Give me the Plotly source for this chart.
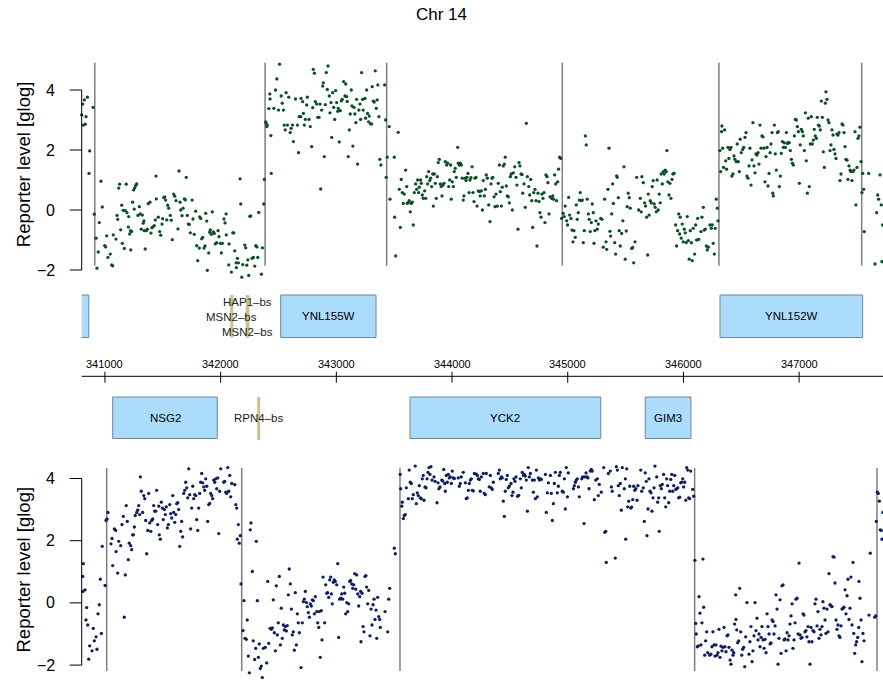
import plotly.graph_objects as go

# ---------------- data ----------------
chrom_title = "Chr 14"
y_label = "Reporter level [glog]"

top_probes = [
(340799,3.17),(340808,3.53),(340813,2.83),(340822,3.67),(340830,2.86),(340836,3.11),(340848,3.76),(340862,1.22),(340868,1.97),(340897,3.42),
(340908,-0.14),(340923,-0.94),(340931,-1.94),(340942,-1.40),(340951,-0.42),(340966,0.96),(340977,0.10),(340998,-1.19),(341006,-1.23),(341015,-0.86),(341026,-1.58),(341046,-1.47),(341058,-1.83),(341067,-1.86),(341072,-0.83),(341087,-2.61),(341095,-0.97),(341104,-0.18),(341110,-0.31),(341119,0.73),(341127,0.86),(341136,-0.66),(341145,0.16),(341150,-1.11),(341158,-0.01),(341167,-1.28),(341176,-0.02),(341184,0.86),(341190,-0.09),(341202,-0.57),(341205,-0.22),(341214,-0.80),(341222,-0.69),(341223,-1.33),(341231,-0.72),(341239,0.26),(341248,0.67),(341253,0.03),(341257,0.74),(341265,0.81),(341274,0.87),(341285,-0.18),(341297,0.11),(341305,-0.13),(341314,-0.64),(341323,-0.17),(341331,-0.44),(341337,-0.36),(341340,-0.69),(341348,-1.30),(341357,-0.69),(341366,-0.64),(341374,0.21),(341389,0.26),(341398,-0.77),(341406,-0.59),(341415,-0.56),(341426,-0.52),(341435,-0.33),(341441,1.13),(341444,0.37),(341461,-0.24),(341473,-0.72),(341482,-0.84),(341493,-0.47),(341499,-0.29),(341508,0.41),(341517,0.44),(341525,0.33),(341534,-0.33),(341542,0.16),(341551,0.06),(341565,-0.18),(341573,-0.34),(341582,-0.99),(341594,0.53),(341603,0.46),(341614,0.31),(341631,-0.63),(341640,1.30),(341649,0.26),(341655,0.00),(341666,-0.19),(341675,0.06),(341686,0.37),(341695,0.34),(341703,1.09),(341712,-0.18),(341721,-0.47),(341729,-0.48),(341738,-0.76),(341753,0.33),(341761,-0.30),(341772,-0.81),(341784,-0.04),(341793,-1.19),(341802,-1.69),(341810,-2.36),(341815,-1.27),(341819,-0.23),(341828,-0.28),(341836,-0.96),(341845,-0.91),(341856,-1.27),(341865,-1.20),(341871,-0.11),(341880,-0.37),(341885,-2.01),(341897,-1.43),(341905,-0.74),(341911,-0.66),(341919,-0.81),(341928,-0.06),(341937,-0.73),(341945,-0.78),(341954,-1.13),(341966,-1.09),(341978,-0.69),(341986,-0.89),(341997,-1.11),(342006,-1.43),(342015,-1.11),(342029,-0.30),(342038,-0.43),(342047,-0.13),(342049,-0.83),(342070,-1.83),(342073,-1.13),(342093,-2.07),(342105,-0.76),(342114,-0.76),(342122,-1.36),(342134,-1.76),(342136,-1.92),(342145,-1.61),(342154,-1.76),(342168,1.04),(342174,0.20),(342183,-2.24),(342191,-1.82),(342200,-2.70),(342209,-1.17),(342217,-1.26),(342226,-1.84),(342235,-1.66),(342243,-2.18),(342252,-0.21),(342260,-0.20),(342272,-1.61),(342283,-1.58),(342295,-1.87),(342304,-1.19),(342313,-1.23),(342321,-1.58),(342330,-0.08),(342352,-2.14),(342361,-1.26),(342373,0.20),(342378,1.02),
(342390,2.94),(342392,2.89),(342399,2.78),(342402,2.83),(342417,3.38),(342425,3.87),(342427,3.70),(342434,2.48),(342437,1.22),(342460,3.39),(342474,4.00),(342486,4.37),(342500,3.33),(342509,4.86),(342523,3.80),(342532,3.56),(342543,3.33),(342549,2.83),(342558,2.67),(342566,3.91),(342577,2.83),(342589,3.76),(342601,2.58),(342609,2.72),(342621,2.83),(342629,2.28),(342647,3.70),(342664,2.83),(342673,1.91),(342679,3.11),(342692,3.11),(342695,3.72),(342709,3.61),(342715,3.22),(342723,2.83),(342732,3.02),(342744,3.50),(342749,3.76),(342764,3.02),(342775,2.78),(342787,2.11),(342796,3.41),(342801,4.69),(342810,4.56),(342818,3.61),(342830,3.53),(342839,3.09),(342850,3.09),(342859,3.53),(342865,0.70),(342873,3.33),(342882,4.13),(342887,4.24),(342896,1.78),(342905,3.51),(342913,4.58),(342922,4.02),(342928,4.80),(342939,3.80),(342945,3.24),(342954,3.58),(342960,2.42),(342968,3.91),(342977,3.42),(342986,3.02),(342994,3.98),(343003,3.58),(343012,3.29),(343017,3.39),(343025,2.27),(343034,3.31),(343043,3.64),(343051,3.69),(343063,4.28),(343075,3.80),(343081,4.20),(343089,3.78),(343094,3.62),(343103,1.78),(343112,2.67),(343120,3.20),(343129,4.00),(343135,3.47),(343143,2.13),(343152,3.42),(343160,3.20),(343169,2.91),(343175,3.69),(343184,1.53),(343195,3.33),(343204,3.53),(343210,3.02),(343218,4.58),(343227,3.69),(343232,3.33),(343247,3.72),(343253,3.06),(343262,4.00),(343270,3.22),(343279,2.94),(343284,3.13),(343296,2.87),(343305,2.87),(343310,4.11),(343319,3.63),(343327,3.60),(343336,4.64),(343345,3.39),(343353,3.67),(343359,4.17),(343368,3.11),(343376,1.69),(343385,1.50),(343405,5.76),(343417,4.17),(343426,3.00),(343431,1.09),
(343440,1.76),(343457,2.78),(343464,0.36),(343501,1.76),(343504,-0.24),(343513,-1.53),(343535,2.59),(343544,0.69),(343553,-0.58),(343561,1.02),(343570,0.58),(343579,0.22),(343587,0.53),(343599,1.33),(343608,0.78),(343613,0.22),(343622,0.25),(343630,0.31),(343639,-0.06),(343648,0.22),(343656,0.26),(343665,-0.50),(343674,0.58),(343686,0.87),(343694,0.69),(343703,1.00),(343711,0.58),(343717,0.76),(343729,1.00),(343734,0.89),(343743,0.50),(343751,0.39),(343763,0.64),(343772,0.39),(343781,1.11),(343789,0.87),(343798,1.28),(343807,0.98),(343815,1.06),(343824,0.78),(343833,1.20),(343838,0.13),(343847,1.20),(343855,0.89),(343864,0.39),(343873,1.11),(343881,1.58),(343890,1.69),(343899,0.87),(343907,0.78),(343913,0.47),(343922,0.83),(343930,0.89),(343942,1.61),(343954,1.50),(343962,1.56),(343971,0.78),(343980,1.00),(343988,1.50),(343993,0.36),(344002,0.94),(344011,0.78),(344019,1.28),(344028,1.39),(344037,1.09),(344049,2.09),(344054,1.56),(344063,1.50),(344071,1.56),(344080,1.50),(344089,1.06),(344097,0.33),(344103,0.47),(344112,1.06),(344121,0.98),(344129,1.09),(344138,1.22),(344147,0.58),(344155,1.00),(344164,1.08),(344173,1.44),(344181,0.58),(344190,0.28),(344199,1.06),(344207,1.09),(344216,0.13),(344227,0.64),(344236,0.61),(344244,0.47),(344253,0.64),(344262,0.00),(344270,0.98),(344279,0.47),(344288,0.69),(344296,1.17),(344305,1.06),(344317,0.17),(344328,-0.39),(344337,0.87),(344346,1.06),(344352,1.09),(344363,0.44),(344372,0.11),(344380,0.53),(344392,0.13),(344400,0.89),(344409,1.50),(344417,0.61),(344426,0.13),(344434,0.76),(344443,1.47),(344452,1.53),(344460,1.76),(344469,0.80),(344478,0.47),(344486,0.44),(344495,0.24),(344504,1.11),(344512,1.20),(344521,0.00),(344530,1.24),(344542,1.44),(344553,1.09),(344561,0.83),(344570,-0.64),(344579,1.58),(344587,1.47),(344596,1.20),(344605,1.18),(344611,0.56),(344622,0.87),(344633,0.09),(344642,2.89),(344651,1.11),(344663,0.78),(344671,0.50),(344680,1.02),(344689,0.31),(344697,-0.58),(344706,0.58),(344717,0.69),(344726,0.31),(344734,-1.20),(344743,0.56),(344752,0.28),(344760,-0.09),(344769,-0.24),(344777,0.53),(344786,0.39),(344795,0.58),(344803,-0.42),(344812,1.17),(344821,1.11),(344829,0.91),(344838,-0.13),(344847,0.44),(344861,0.39),(344870,0.47),(344878,0.36),(344887,1.17),(344896,0.87),(344904,0.31),(344913,0.94),(344921,1.36),(344930,1.76),(344939,1.72),(344947,-0.28),
(344961,-0.11),(344970,-0.22),(344978,0.13),(344991,-0.36),(344999,-0.50),(345008,0.42),(345016,-0.17),(345028,-0.28),(345036,-0.67),(345045,-1.06),(345054,-0.69),(345065,-0.91),(345074,0.17),(345082,-0.31),(345091,-0.09),(345100,0.33),(345108,0.58),(345117,0.31),(345126,0.33),(345134,-1.09),(345143,-0.69),(345152,2.47),(345160,2.17),(345169,0.36),(345178,-0.13),(345186,-0.31),(345195,-0.72),(345204,-0.42),(345212,0.20),(345221,-0.09),(345227,-1.11),(345235,-0.69),(345244,-0.36),(345255,-0.64),(345264,-0.47),(345285,-0.28),(345296,-0.31),(345307,-1.24),(345319,0.36),(345331,-1.06),(345337,-1.31),(345348,0.69),(345357,2.06),(345365,-0.71),(345371,-0.87),(345380,-0.13),(345388,0.87),(345394,0.22),(345406,-1.09),(345414,-1.47),(345423,1.14),(345428,1.09),(345437,0.41),(345445,-0.69),(345454,-1.20),(345466,-0.78),(345477,-0.36),(345486,1.44),(345497,-1.64),(345506,-0.70),(345514,0.11),(345523,0.56),(345532,0.41),(345540,0.06),(345553,-1.28),(345561,-1.25),(345570,-1.76),(345581,-1.06),(345596,1.09),(345613,0.00),(345627,0.39),(345635,-0.06),(345641,1.11),(345653,0.91),(345665,0.24),(345673,0.13),(345682,-0.24),(345691,-1.50),(345696,0.53),(345704,-0.17),(345713,0.31),(345722,0.24),(345730,0.78),(345739,0.98),(345747,0.20),(345756,0.09),(345765,-0.06),(345773,1.00),(345782,0.00),(345791,0.53),(345799,0.24),(345808,1.20),(345817,0.87),(345825,1.28),(345834,1.20),(345843,1.33),(345851,1.28),(345857,1.98),(345866,0.94),(345875,0.50),(345883,0.89),(345892,0.39),(345901,1.02),(345909,1.20),(345920,1.22),(345933,-0.50),(345941,-1.20),(345950,-0.69),(345959,-0.13),(345967,-0.80),(345972,-0.24),(345981,-0.94),(345990,-0.47),(345998,-1.06),(346007,-0.64),(346016,-0.76),(346024,-1.09),(346033,-0.22),(346042,-1.02),(346050,-1.64),(346059,-0.69),(346068,-1.09),(346076,-1.69),(346085,-0.61),(346097,-1.47),(346106,-0.50),(346114,-1.00),(346123,-0.28),(346132,-0.98),(346143,-2.53),(346152,-0.72),(346160,-0.24),(346172,0.09),(346180,-0.67),(346189,-0.64),(346198,-1.20),(346206,-1.33),(346215,-1.24),(346229,-0.50),(346241,-0.61),(346249,-0.50),(346258,-1.11),(346267,-1.47),(346275,-0.61),(346284,0.36),(346293,0.06),(346299,-0.36),
(346315,1.98),(346321,1.28),(346330,2.61),(346333,2.80),(346339,2.06),(346347,1.42),(346356,2.67),(346365,1.64),(346373,1.36),(346385,2.09),(346393,1.72),(346402,2.02),(346411,2.09),(346419,1.13),(346428,1.20),(346437,1.80),(346445,1.69),(346457,1.61),(346465,2.20),(346474,1.61),(346483,1.28),(346491,2.36),(346500,1.91),(346512,2.02),(346521,2.09),(346532,2.42),(346541,2.58),(346549,1.13),(346558,1.06),(346567,1.47),(346575,2.06),(346584,0.83),(346593,1.67),(346601,2.91),(346610,1.47),(346619,1.24),(346627,1.87),(346636,1.83),(346645,1.91),(346653,1.53),(346662,2.83),(346671,2.06),(346679,2.47),(346688,2.44),(346697,2.06),(346705,0.94),(346714,1.78),(346723,2.09),(346731,0.80),(346740,1.22),(346749,1.91),(346757,2.20),(346766,2.58),(346772,0.56),(346777,0.47),(346786,2.83),(346794,1.87),(346803,1.33),(346812,2.58),(346820,2.61),(346829,0.78),(346838,1.13),(346846,1.89),(346855,2.28),(346864,2.09),(346872,2.24),(346881,2.09),(346890,2.58),(346898,2.22),(346907,2.25),(346915,2.24),(346924,1.98),(346933,1.69),(346941,1.56),(346950,1.50),(346959,2.47),(346967,3.02),(346976,3.00),(346985,2.78),(346993,2.61),(347002,0.89),(347010,2.17),(347019,2.69),(347028,2.61),(347036,2.47),(347045,1.98),(347054,3.24),(347062,1.64),(347071,0.56),(347079,3.06),(347088,0.78),(347097,2.20),(347105,3.11),(347114,2.20),(347123,2.33),(347131,2.69),(347140,2.47),(347149,2.39),(347157,3.09),(347166,2.83),(347175,2.80),(347183,2.67),(347192,3.63),(347201,3.09),(347209,1.94),(347218,1.42),(347227,3.56),(347232,3.94),(347241,3.69),(347250,3.00),(347258,2.91),(347267,1.98),(347275,2.17),(347284,2.67),(347293,2.50),(347301,2.02),(347310,1.87),(347319,1.72),(347327,2.53),(347336,2.50),(347345,2.58),(347353,0.98),(347362,1.20),(347371,2.87),(347379,2.83),(347388,2.58),(347397,2.11),(347405,1.69),(347414,1.66),(347422,1.02),(347431,1.47),(347440,1.33),(347448,1.28),(347457,0.98),(347466,1.28),(347474,1.33),(347483,2.61),(347491,0.17),(347500,1.42),(347509,2.39),(347517,2.47),(347526,2.76),(347535,1.61),
(347543,0.58),(347550,1.22),(347558,0.69),(347563,-0.72),(347601,1.22),(347656,-1.80),(347670,-0.09),(347679,0.50),(347687,0.36),(347699,1.17),(347710,0.17),(347716,-1.72),(347722,-0.50),
]

bottom_probes = [
(340808,0.85),(340810,0.37),(340813,1.26),(340828,0.42),(340836,-0.55),(340842,-0.15),(340851,-0.71),(340860,-1.81),(340868,-1.38),(340888,-1.54),(340899,-0.82),(340908,-1.22),(340923,-1.09),(340931,-1.49),(340940,-0.35),(340951,-0.06),(340960,0.76),(340969,-0.98),(340977,1.82),(341001,0.56),(341009,2.65),
(341018,2.70),(341026,2.91),(341052,1.90),(341061,2.07),(341067,1.20),(341081,2.38),(341093,2.33),(341096,1.65),(341110,0.96),(341119,1.98),(341136,1.84),(341147,2.52),(341159,2.78),(341167,-0.46),(341176,0.90),(341184,3.13),(341193,2.62),(341202,1.39),(341210,1.92),(341223,1.84),(341231,1.71),(341240,2.19),(341245,2.19),(341254,2.44),(341262,2.81),(341274,2.91),(341283,2.98),(341292,3.13),(341300,2.84),(341306,4.05),(341314,3.59),(341326,2.91),(341335,3.45),(341344,3.35),(341352,2.65),(341361,1.58),(341370,2.33),(341378,3.52),(341387,2.57),(341396,2.30),(341404,2.65),(341413,2.70),(341421,3.13),(341430,2.95),(341439,2.95),(341447,3.62),(341456,2.52),(341465,3.11),(341470,2.19),(341479,2.05),(341487,3.24),(341496,3.05),(341504,2.68),(341513,3.00),(341522,2.84),(341530,3.09),(341539,2.41),(341548,2.52),(341560,3.16),(341568,2.87),(341577,2.73),(341586,3.45),(341594,2.91),(341603,2.59),(341612,2.84),(341620,3.19),(341629,3.22),(341637,3.00),(341646,1.82),(341655,2.30),(341663,2.62),(341672,2.12),(341681,3.52),(341689,3.62),(341698,3.88),(341707,3.70),(341715,3.38),(341724,4.31),(341733,3.48),(341741,2.38),(341750,3.05),(341759,3.75),(341767,3.35),(341776,3.48),(341785,3.45),(341793,2.68),(341802,2.33),(341810,3.05),(341819,3.52),(341828,3.88),(341836,4.16),(341845,3.86),(341854,3.73),(341862,3.62),(341871,3.99),(341880,3.75),(341888,2.62),(341897,3.16),(341905,3.20),(341914,3.52),(341923,3.45),(341931,3.35),(341940,3.95),(341949,3.88),(341957,3.99),(341966,3.67),(341975,4.02),(341983,2.23),(341992,3.59),(342001,4.31),(342009,4.42),(342018,4.53),(342027,3.88),(342035,3.91),(342044,3.56),(342053,3.52),(342061,4.35),(342070,3.59),(342079,4.10),(342087,3.41),(342096,3.84),(342105,4.42),(342113,4.77),(342122,3.80),(342131,3.16),(342139,3.05),(342144,2.05),(342153,2.52),(342161,1.92),(342170,2.16),
(342176,0.61),(342193,-0.89),(342202,0.07),(342211,-1.14),(342222,-1.17),(342230,-0.55),(342239,-1.71),(342248,-2.25),(342256,2.35),(342262,2.57),(342274,1.01),(342282,-1.22),(342294,-1.82),(342303,-1.46),(342308,1.98),(342317,0.07),(342326,-1.75),(342334,-1.32),(342343,-2.11),(342352,-2.03),(342360,-2.40),(342369,-1.46),(342386,-1.43),(342398,-1.93),(342407,0.69),(342415,-1.30),(342427,-0.82),(342438,-0.85),(342447,-0.80),(342455,0.10),(342464,-0.96),(342473,-1.54),(342481,0.55),(342490,-1.03),(342498,-0.64),(342507,0.85),(342516,-1.35),(342524,-0.17),(342533,-1.14),(342542,-0.71),(342550,-0.87),(342559,-0.76),(342568,-0.90),(342576,-0.73),(342585,0.26),(342593,1.09),(342602,0.61),(342611,-0.20),(342619,-1.03),(342628,-0.93),(342637,-1.52),(342645,0.33),(342654,-1.35),(342663,-0.35),(342671,-0.64),(342680,-0.96),(342695,-2.08),(342706,-0.64),(342715,0.04),(342723,0.12),(342732,0.37),(342741,0.01),(342749,-0.12),(342758,-0.31),(342767,-0.46),(342775,-0.03),(342784,-0.10),(342792,0.10),(342801,0.07),(342810,-0.35),(342818,0.20),(342830,-0.28),(342839,-0.64),(342848,-0.79),(342853,-0.28),(342861,-1.75),(342870,-0.25),(342876,-1.19),(342885,0.83),(342899,-0.64),(342908,0.58),(342917,0.31),(342925,0.33),(342934,0.18),(342943,0.74),(342951,0.83),(342957,0.29),(342965,-0.03),(342974,0.66),(342982,0.74),(342991,0.69),(343003,0.58),(343012,1.26),(343020,-1.11),(343029,0.12),(343038,0.15),(343046,0.29),(343055,0.12),(343064,0.51),(343072,0.31),(343081,-0.35),(343090,0.01),(343098,-0.28),(343107,-0.03),(343115,0.69),(343124,0.72),(343133,0.61),(343141,0.47),(343150,0.58),(343159,0.94),(343167,0.44),(343176,0.90),(343185,0.29),(343193,-0.10),(343202,0.20),(343210,0.37),(343213,-1.25),(343222,0.31),(343231,-0.76),(343239,-0.93),(343248,0.85),(343256,0.88),(343262,0.51),(343271,-0.03),(343280,0.40),(343291,-1.06),(343300,-0.20),(343308,-0.71),(343317,-0.06),(343326,0.12),(343334,-0.53),(343343,-0.23),(343349,-1.14),(343357,0.18),(343366,-0.44),(343375,-0.53),(343380,-0.79),(343421,-0.28),(343444,-0.93),(343453,0.12),(343461,0.47),(343501,1.76),(343510,1.58),
(343552,4.13),(343556,3.67),(343565,3.11),(343570,3.24),(343579,2.71),(343587,2.81),(343596,2.84),(343605,3.70),(343613,4.42),(343622,3.35),(343630,4.27),(343639,3.88),(343648,3.84),(343656,3.35),(343665,3.48),(343674,4.51),(343682,4.40),(343691,3.19),(343700,3.54),(343708,3.45),(343717,3.77),(343726,3.38),(343734,3.35),(343743,3.99),(343751,4.10),(343758,3.30),(343766,3.73),(343775,3.70),(343784,3.99),(343792,4.20),(343801,4.35),(343809,4.13),(343818,4.38),(343827,3.95),(343835,4.42),(343844,4.05),(343853,3.91),(343861,4.81),(343870,3.22),(343879,3.86),(343887,3.67),(343896,3.73),(343902,4.64),(343911,3.95),(343919,3.92),(343928,4.29),(343937,3.84),(343942,3.59),(343950,4.10),(343959,3.88),(343968,4.13),(343976,4.02),(343985,4.05),(343994,3.84),(344002,4.24),(344011,4.02),(344020,4.00),(344028,4.51),(344037,4.64),(344046,4.42),(344054,4.02),(344063,3.75),(344071,3.84),(344080,4.05),(344089,4.99),(344097,4.20),(344106,4.59),(344115,3.86),(344123,3.35),(344132,3.38),(344141,3.62),(344149,3.84),(344158,3.95),(344167,3.99),(344175,3.62),(344184,3.60),(344193,4.16),(344201,4.48),(344210,4.14),(344219,4.10),(344227,3.99),(344236,3.97),(344244,3.59),(344253,4.05),(344262,4.42),(344270,4.16),(344279,3.52),(344288,3.48),(344296,4.16),(344305,4.42),(344314,4.74),(344322,3.73),(344331,4.10),(344339,3.70),(344348,3.65),(344357,3.88),(344365,4.56),(344374,4.81),(344383,4.67),(344392,4.51),(344400,4.16),(344409,4.27),(344417,3.99),(344426,4.05),(344434,4.02),(344443,3.27),(344452,2.78),(344460,3.59),(344469,3.97),(344478,4.10),(344486,3.70),(344495,3.75),(344501,4.64),(344510,3.84),(344518,3.45),(344527,3.56),(344535,3.99),(344544,3.91),(344553,4.05),(344559,4.74),(344567,3.43),(344576,3.46),(344581,4.59),(344590,3.99),(344599,3.70),(344607,4.20),(344616,4.10),(344625,4.13),(344633,4.08),(344642,3.95),(344651,2.95),(344659,4.35),(344668,4.05),(344677,4.16),(344685,4.53),(344694,3.95),(344703,3.56),(344711,3.95),(344720,3.35),(344729,4.27),(344737,3.41),(344746,4.02),(344755,3.95),(344763,3.99),(344772,3.97),(344781,4.72),(344789,4.83),(344798,4.56),(344807,4.13),(344815,2.91),(344824,3.54),(344833,3.86),(344841,4.70),(344850,4.10),(344858,3.52),(344867,2.65),(344876,3.19),(344884,3.84),(344893,4.20),(344902,4.85),(344910,3.54),(344919,3.75),(344928,4.10),(344936,4.20),(344945,4.81),(344953,3.59),(344962,3.56),(344971,3.99),(344979,3.02),(344988,4.35),(344997,3.41),(345005,4.18),(345014,4.51),(345023,4.72),(345031,4.77),(345040,4.70),(345049,3.67),(345057,3.77),(345066,3.88),(345074,3.95),(345083,3.99),(345092,3.73),(345100,3.41),(345112,4.42),(345121,3.99),(345129,4.05),(345141,2.55),(345149,4.05),(345158,4.18),(345167,4.05),(345175,4.02),(345184,3.67),(345195,4.24),(345204,4.29),(345212,4.24),(345230,3.32),(345242,3.95),(345247,4.64),(345256,3.99),(345264,3.45),(345273,3.81),(345281,4.56),(345290,3.56),(345294,4.72),(345305,4.59),(345311,4.35),(345320,2.27),(345328,2.30),(345333,1.30),(345342,5.13),(345351,4.16),(345359,5.13),(345368,4.24),(345377,3.73),(345385,3.59),(345394,4.61),(345403,4.45),(345411,1.44),(345420,4.38),(345429,4.27),(345437,3.77),(345446,3.45),(345454,3.84),(345463,2.98),(345472,4.35),(345480,4.72),(345489,3.67),(345498,3.99),(345501,2.05),(345510,4.31),(345518,3.09),(345527,3.27),(345536,3.75),(345544,3.05),(345553,3.08),(345562,3.32),(345570,3.75),(345579,3.62),(345581,4.74),(345588,3.67),(345599,3.30),(345607,3.77),(345622,4.74),(345631,4.27),(345639,3.59),(345645,4.45),(345653,3.70),(345662,2.62),(345670,4.18),(345679,3.91),(345685,2.16),(345694,3.02),(345702,3.99),(345711,3.59),(345720,3.54),(345728,2.95),(345737,3.38),(345746,3.70),(345754,4.40),(345760,4.45),(345769,4.05),(345777,3.24),(345786,3.38),(345791,2.30),(345800,3.77),(345809,3.67),(345817,3.81),(345829,4.13),(345838,3.38),(345847,3.09),(345855,3.99),(345864,3.77),(345873,3.22),(345881,3.59),(345890,3.97),(345899,4.13),(345907,3.59),(345916,3.77),(345925,4.10),(345933,3.65),(345942,3.67),(345951,3.70),(345959,3.38),(345968,3.40),(345976,3.86),(345985,3.88),(345994,3.99),(346002,3.73),(346011,3.88),(346020,3.30),(346028,4.35),(346037,4.27),(346045,3.38),(346054,3.35),(346063,4.24),(346071,4.61),(346080,3.65),(346089,3.43),
(346099,1.37),(346106,-0.66),(346111,-1.00),(346120,-1.41),(346129,-1.38),(346135,0.20),(346143,-0.33),(346152,-1.35),(346160,-0.64),(346169,1.41),(346175,-0.14),(346184,-1.68),(346192,-1.22),(346201,-0.93),(346210,-1.60),(346227,-1.68),(346238,-1.65),(346247,-1.41),(346255,-0.93),(346264,-1.35),(346273,-1.71),(346281,-1.35),(346290,-1.68),(346299,-1.60),(346307,-0.85),(346316,-1.75),(346325,-1.39),(346333,-1.54),(346342,-1.43),(346351,-0.79),(346359,-1.41),(346368,-1.57),(346377,-1.06),(346385,-1.03),(346394,-1.43),(346403,-1.84),(346411,-1.97),(346420,-1.52),(346429,-1.68),(346435,-1.60),(346443,-0.68),(346452,0.26),(346454,-0.53),(346461,-0.87),(346469,-1.28),(346478,-1.22),(346486,0.47),(346495,-0.93),(346504,-1.68),(346512,-1.49),(346521,-1.43),(346530,-2.05),(346538,-1.09),(346549,0.01),(346558,-2.55),(346567,-1.65),(346575,-1.25),(346584,-0.76),(346593,-1.89),(346601,-1.54),(346610,-1.06),(346619,0.01),(346627,-0.89),(346636,-0.49),(346645,-1.19),(346653,-1.00),(346662,-1.41),(346671,-1.11),(346679,-0.76),(346688,-1.19),(346697,-1.46),(346705,-1.17),(346714,-1.60),(346723,-0.35),(346731,-0.76),(346740,-1.00),(346749,-1.32),(346757,-1.29),(346766,-0.55),(346775,-0.60),(346783,-1.00),(346792,-0.74),(346800,0.26),(346809,-0.20),(346818,-1.97),(346826,-1.14),(346835,0.10),(346844,-1.62),(346852,0.55),(346861,0.58),(346870,-1.19),(346878,-1.16),(346887,-1.54),(346896,-0.96),(346904,-1.19),(346913,-1.06),(346921,-0.68),(346930,-0.42),(346939,-0.03),(346947,-1.46),(346956,-1.19),(346965,-0.64),(346973,0.12),(346982,0.15),(346991,-1.00),(346999,1.28),(347008,-1.03),(347016,-1.14),(347025,-1.11),(347034,-0.35),(347042,-0.39),(347051,-0.93),(347059,-0.89),(347068,-1.09),(347077,-0.76),(347085,-1.25),(347094,-1.97),(347103,-0.79),(347111,-1.25),(347120,-0.89),(347129,-0.93),(347137,-0.03),(347146,0.12),(347155,-0.74),(347163,-0.28),(347172,-1.14),(347180,-0.85),(347189,-1.03),(347198,-0.76),(347206,0.04),(347215,-0.17),(347224,-0.55),(347232,-0.98),(347241,-0.20),(347250,-0.93),(347258,0.94),(347267,-0.06),(347275,-0.09),(347284,-0.12),(347293,1.49),(347301,1.47),(347310,0.64),(347319,-0.55),(347327,-0.85),(347336,-0.71),(347345,-1.06),(347353,-1.11),(347362,-0.74),(347371,-0.20),(347379,-0.17),(347388,-0.14),(347397,0.42),(347405,-0.35),(347414,0.23),(347422,0.76),(347431,-0.53),(347440,-0.17),(347448,0.83),(347457,-0.71),(347466,1.30),(347472,-0.98),(347480,-1.62),(347489,-1.35),(347497,-1.25),(347506,-1.11),(347515,-0.79),(347517,0.69),(347526,0.15),(347535,-0.55),(347543,-1.89),(347552,-0.98),(347561,-1.22),(347569,-2.43),(347604,-0.39),(347615,1.60),(347653,-0.46),(347662,-0.42),(347667,2.62),
(347676,3.56),(347684,3.52),(347693,3.27),(347701,2.35),(347710,2.33),(347716,2.05),(347724,2.91),
]

top_pos = [p for p, v in top_probes]
top_val = [v for p, v in top_probes]
bot_pos = [p for p, v in bottom_probes]
bot_val = [v for p, v in bottom_probes]

# segment boundaries (genomic coordinate)
top_breaks = [340912, 342384, 343435, 344953, 346307, 347541]
bot_breaks = [341015, 342182, 343550, 346097, 347673]

# genes on each strand: (name, start, end)
top_genes = [("", 340500, 340860), ("YNL155W", 342519, 343343), ("YNL152W", 346316, 347549)]
bot_genes = [("NSG2", 341067, 341971), ("YCK2", 343637, 345285), ("GIM3", 345670, 346065)]

# transcription-factor binding sites: (label, position)
top_sites = [("HAP1\u2013bs", 342230), ("MSN2\u2013bs", 342096), ("MSN2\u2013bs", 342235)]
bot_sites = [("RPN4\u2013bs", 342329)]

coord_ticks = [341000, 342000, 343000, 344000, 345000, 346000, 347000]
y_ticks = [-2, 0, 2, 4]
y_tick_text = ["\u22122", "0", "2", "4"]

# ---------------- styling / layout ----------------
W, H = 883, 693
FONT = "Liberation Sans, Arial, Helvetica, sans-serif"
TOP_COL = "#0b4d26"
BOT_COL = "#0f1f5c"
BOX_FILL = "#abdcfb"
BOX_LINE = "#6f8799"
SITE_COL = "#cbbf8e"
SEG_COL = "#7f7f7f"


def py(px):
    return 1 - px / H


def pxx(px):
    return px / W


X_LEFT = 81.7
x_range = [340799, 347725]
top_range, top_lim = [-2.3, 4.95], [-1.86, 4.91]
bot_range, bot_lim = [-2.4, 4.4], [-2.19, 4.34]

fig = go.Figure()
fig.add_trace(go.Scatter(x=top_pos, y=top_val, mode="markers", xaxis="x", yaxis="y",
                         marker=dict(size=3.3, color=TOP_COL), cliponaxis=False,
                         hoverinfo="skip", showlegend=False))
fig.add_trace(go.Scatter(x=bot_pos, y=bot_val, mode="markers", xaxis="x", yaxis="y2",
                         marker=dict(size=3.3, color=BOT_COL), cliponaxis=False,
                         hoverinfo="skip", showlegend=False))

shapes, ann = [], []

# segment boundaries
for b in top_breaks:
    shapes.append(dict(type="line", xref="x", yref="y", x0=b, x1=b, y0=top_lim[0], y1=top_lim[1],
                       line=dict(color=SEG_COL, width=1.5), layer="below"))
for b in bot_breaks:
    shapes.append(dict(type="line", xref="x", yref="y2", x0=b, x1=b, y0=bot_lim[0], y1=bot_lim[1],
                       line=dict(color=SEG_COL, width=1.5), layer="below"))

# R-style y axes
for yref, ycen in (("y", 164.2), ("y2", 569.5)):
    shapes.append(dict(type="line", xref="paper", yref=yref, x0=pxx(X_LEFT), x1=pxx(X_LEFT),
                       y0=min(y_ticks), y1=max(y_ticks), line=dict(color="black", width=1)))
    for t, lab in zip(y_ticks, y_tick_text):
        shapes.append(dict(type="line", xref="paper", yref=yref, x0=pxx(X_LEFT - 12), x1=pxx(X_LEFT),
                           y0=t, y1=t, line=dict(color="black", width=1)))
        ann.append(dict(xref="paper", yref=yref, x=pxx(57), y=t, text=lab, showarrow=False,
                        xanchor="right", yanchor="middle", font=dict(size=16, color="black", family=FONT)))
    ann.append(dict(xref="paper", yref="paper", x=pxx(23), y=py(ycen), text=y_label, textangle=-90,
                    showarrow=False, xanchor="center", yanchor="middle",
                    font=dict(size=18.5, color="black", family=FONT)))

# genomic coordinate axis
AX_Y = 376.3
shapes.append(dict(type="line", xref="x domain", yref="paper", x0=0, x1=1, y0=py(AX_Y), y1=py(AX_Y),
                   line=dict(color="black", width=1)))
for t in coord_ticks:
    shapes.append(dict(type="line", xref="x", yref="paper", x0=t, x1=t, y0=py(371.7), y1=py(382.7),
                       line=dict(color="black", width=1)))
    ann.append(dict(xref="x", yref="paper", x=t, y=py(363.5), text=str(t), showarrow=False,
                    xanchor="center", yanchor="middle", font=dict(size=11, color="black", family=FONT)))

# gene boxes
for genes, (ytop, ybot) in ((top_genes, (295, 337.5)), (bot_genes, (397, 438.5))):
    for name, s, e in genes:
        shapes.append(dict(type="rect", xref="x", yref="paper", x0=s, x1=e, y0=py(ybot), y1=py(ytop),
                           fillcolor=BOX_FILL, line=dict(color=BOX_LINE, width=1)))
        if name:
            ann.append(dict(xref="x", yref="paper", x=(s + e) / 2, y=py((ytop + ybot) / 2), text=name,
                            showarrow=False, xanchor="center", yanchor="middle",
                            font=dict(size=11.5, color="black", family=FONT)))

# binding sites
for sites, (ytop, ybot), rows in ((top_sites, (295, 337.5), (302.3, 317.0, 331.7)),
                                  (bot_sites, (397, 440), (418.0,))):
    for (lab, p), ry in zip(sites, rows):
        shapes.append(dict(type="line", xref="x", yref="paper", x0=p, x1=p, y0=py(ybot), y1=py(ytop),
                           line=dict(color=SITE_COL, width=3)))
        ann.append(dict(xref="x", yref="paper", x=p, y=py(ry), text=lab, showarrow=False,
                        xanchor="center", yanchor="middle",
                        font=dict(size=11.5, color="#222222", family=FONT)))

# title
ann.append(dict(xref="paper", yref="paper", x=0.5, y=py(14), text=chrom_title, showarrow=False,
                xanchor="center", yanchor="middle", font=dict(size=17, color="black", family=FONT)))

fig.update_layout(
    width=W, height=H, margin=dict(l=0, r=0, t=0, b=0),
    paper_bgcolor="white", plot_bgcolor="white",
    xaxis=dict(domain=[pxx(X_LEFT), 1.0], range=x_range, visible=False, anchor="y"),
    yaxis=dict(domain=[py(279.0), py(61.5)], range=top_range, visible=False, anchor="x"),
    yaxis2=dict(domain=[py(677.54), py(466.06)], range=bot_range, visible=False, anchor="x"),
    shapes=shapes, annotations=ann, showlegend=False,
)

fig.write_html("out.html", config={"displayModeBar": False, "staticPlot": True},
               post_script="document.body.style.margin='0px';document.body.style.overflow='hidden';")
